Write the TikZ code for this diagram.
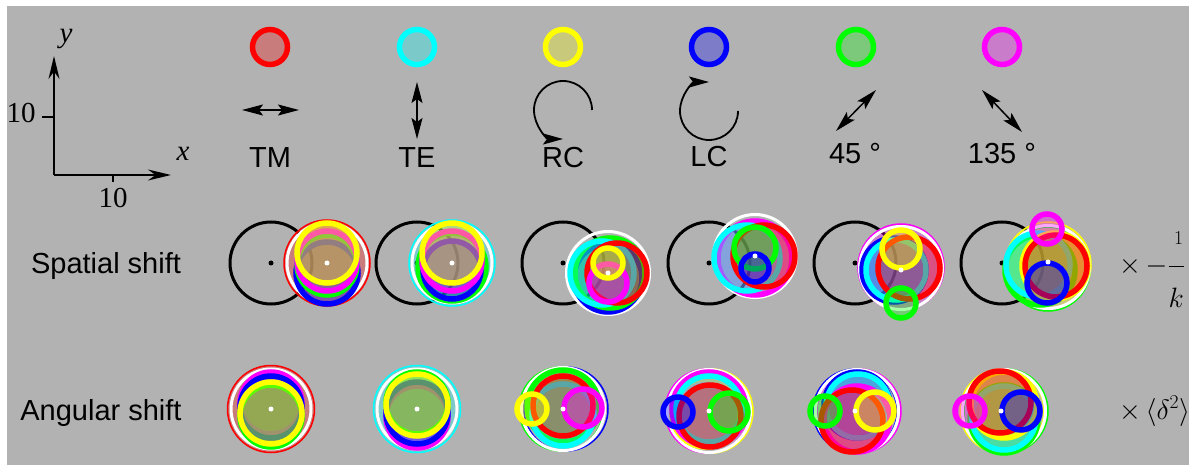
\documentclass[tikz,border=0pt]{standalone}
\usepackage{fix-cm}
\usepackage{amsmath}
\usepackage{fontspec}
\setmainfont{Liberation Serif}
\setsansfont{Liberation Sans}
\usepackage{xcolor}
\definecolor{bgcolor}{gray}{0.7}
\definecolor{cyan}{rgb}{0,1,1}
\definecolor{magenta}{rgb}{1,0,1}
\definecolor{green}{rgb}{0,1,0}
\definecolor{yellow}{rgb}{1,1,0}
\colorlet{refcolor}{black}
\colorlet{centercolor}{white}
\usetikzlibrary{
  arrows.meta,
}

\begin{document}
\begin{tikzpicture}[x=1pt,y=-1pt]
	\tikzstyle{every node}=[font=\sffamily\fontsize{29}{34}\selectfont, inner sep=0pt]
	\tikzstyle{polring}=[line width=5.5pt, fill opacity=0.35]
	\tikzstyle{legring}=[line width=5.5pt, fill opacity=0.3]
	\tikzstyle{thinring}=[line width=1.5pt, fill opacity=0.3]
	\tikzstyle{whitering}=[white, line width=3pt]
	\tikzstyle{refring}=[refcolor, line width=3pt]
	\tikzstyle{pol}=[line width=1.5pt, {Stealth[length=21pt,width=11pt,inset=4pt]}-{Stealth[length=21pt,width=11pt,inset=4pt]}]
	\tikzstyle{spin}=[line width=1.8pt, -{Stealth[length=20pt,width=11pt,inset=4pt]}]
	% background
	\useasboundingbox (0,0) rectangle (1189,465);
	\fill[bgcolor] (7,6) rectangle (1189,465);
	% axes
	\coordinate (O) at (54,175);
	\coordinate (ytip) at (54,56);
	\coordinate (xtip) at (171,175);
	\coordinate (ytick) at (42,117);
	\coordinate (xtick) at (113,182);
	\draw[line width=1.7pt, -{Stealth[length=23pt,width=11pt]}] (O) -- (ytip);
	\draw[line width=1.7pt, -{Stealth[length=23pt,width=11pt]}] (O) -- (xtip);
	\draw[line width=1.5pt] (ytick) -- (54,117);
	\draw[line width=1.5pt] (xtick) -- (113,175);
	\node (ylab) at (66,39) {\rmfamily\itshape y};
	\node (xlab) at (183,154) {\rmfamily\itshape x};
	\node[anchor=base] (yten) at (21,123) {\rmfamily 10};
	\node[anchor=base] (xten) at (113,208) {\rmfamily 10};
	% legend circles
	\draw[legring, draw=red, fill=red] (270,47) circle [radius=17.5];
	\draw[legring, draw=cyan, fill=cyan] (417,47) circle [radius=17.5];
	\draw[legring, draw=yellow, fill=yellow] (563,47) circle [radius=17.5];
	\draw[legring, draw=blue, fill=blue] (709,47) circle [radius=17.5];
	\draw[legring, draw=green, fill=green] (856,47) circle [radius=17.5];
	\draw[legring, draw=magenta, fill=magenta] (1002,47) circle [radius=17.5];
	% polarization symbols
	\draw[pol] (242,110) -- (299,110);
	\draw[pol] (417,82) -- (417,139);
	\draw[spin] (592,110) arc [start angle=0, end angle=-270, radius=29];
	\draw[spin] (738,111) arc [start angle=0, end angle=270, radius=29];
	\draw[pol] (836,131) -- (876,90);
	\draw[pol] (982,90) -- (1022,132);
	\node[anchor=base] (tm) at (270,168) {TM};
	\node[anchor=base] (te) at (417,168) {TE};
	\node[anchor=base] (rc) at (563,168) {RC};
	\node[anchor=base] (lc) at (709,167) {LC};
	\node[anchor=base] (dfortyfive) at (855,164) {45 °};
	\node[anchor=base] (donethirtyfive) at (1002,164) {135 °};
	% row labels
	\node[anchor=base] (spatial) at (106,273) {Spatial shift};
	\node[anchor=base] (angular) at (101,420) {Angular shift};
	% reference circles
	\draw[refring] (271,263) circle [radius=41];
	\draw[refring] (417,263) circle [radius=41];
	\draw[refring] (563,263) circle [radius=41];
	\draw[refring] (709,263) circle [radius=41];
	\draw[refring] (855,263) circle [radius=41];
	\draw[refring] (1002,263) circle [radius=41];
	\fill[refcolor] (271,263) circle [radius=2.5];
	\fill[refcolor] (417,263) circle [radius=2.5];
	\fill[refcolor] (563,263) circle [radius=2.5];
	\fill[refcolor] (709,263) circle [radius=2.5];
	\fill[refcolor] (855,263) circle [radius=2.5];
	\fill[refcolor] (1002,263) circle [radius=2.5];
	% spatial shift, TM
	\begin{scope}[shift={(327,263)}]
		\draw[thinring, draw=red, fill=red] (0,0) circle [radius=43];
		\draw[whitering] (0,0) circle [radius=40];
		\draw[polring, draw=blue, fill=blue] (0,10) circle [radius=31];
		\draw[polring, draw=green, fill=green] (0,2) circle [radius=30];
		\draw[polring, draw=magenta, fill=magenta] (0,-2) circle [radius=30];
		\draw[polring, draw=yellow, fill=yellow] (0,-10) circle [radius=30];
		\fill[centercolor] (0,0) circle [radius=2.5];
	\end{scope}
	% spatial shift, TE
	\begin{scope}[shift={(452,263)}]
		\draw[thinring, draw=cyan, fill=cyan] (0,0) circle [radius=43];
		\draw[whitering] (0,0) circle [radius=40];
		\draw[polring, draw=green, fill=green] (0,4) circle [radius=34];
		\draw[polring, draw=blue, fill=blue] (0,7) circle [radius=29];
		\draw[polring, draw=magenta, fill=magenta] (0,-2) circle [radius=30];
		\draw[polring, draw=yellow, fill=yellow] (0,-10) circle [radius=30];
		\fill[centercolor] (0,0) circle [radius=2.5];
	\end{scope}
	% spatial shift, RC
	\begin{scope}[shift={(608,273)}]
		\draw[whitering] (0,0) circle [radius=41.5];
		\draw[polring, draw=blue, fill=blue] (0,5) circle [radius=34];
		\draw[polring, draw=green, fill=green] (2,0) circle [radius=35];
		\draw[polring, draw=cyan, fill=cyan] (-6,0) circle [radius=32];
		\draw[polring, draw=red, fill=red] (9,0) circle [radius=30];
		\draw[polring, draw=magenta, fill=magenta] (0,10) circle [radius=19];
		\draw[polring, draw=yellow, fill=yellow] (0,-10) circle [radius=15];
		\fill[centercolor] (0,0) circle [radius=2.5];
	\end{scope}
	% spatial shift, LC
	\begin{scope}[shift={(755,256)}]
		\draw[whitering] (0,0) circle [radius=41.5];
		\draw[polring, draw=magenta, fill=magenta] (0,2) circle [radius=37];
		\draw[polring, draw=cyan, fill=cyan] (-8,2) circle [radius=33];
		\draw[polring, draw=red, fill=red] (9,0) circle [radius=31];
		\draw[polring, draw=green, fill=green] (0,-8) circle [radius=21];
		\draw[polring, draw=blue, fill=blue] (0,12) circle [radius=14];
		\fill[centercolor] (0,0) circle [radius=2.5];
	\end{scope}
	% spatial shift, 45
	\begin{scope}[shift={(901,268)}]
		\draw[thinring, draw=magenta, fill=magenta] (0,-1) circle [radius=43];
		\draw[whitering] (0,0) circle [radius=41.5];
		\draw[polring, draw=blue, fill=blue] (-7,2) circle [radius=32];
		\draw[polring, draw=cyan, fill=cyan] (-5,2) circle [radius=30];
		\draw[polring, draw=red, fill=red] (8,0) circle [radius=31];
		\draw[polring, draw=yellow, fill=yellow] (0,-19) circle [radius=19];
		\draw[polring, draw=green, fill=green] (0,35) circle [radius=15];
		\fill[centercolor] (0,2) circle [radius=2.5];
	\end{scope}
	% spatial shift, 135
	\begin{scope}[shift={(1048,267)}]
		\draw[thinring, draw=yellow, fill=yellow] (0,-2) circle [radius=43];
		\draw[thinring, draw=green] (0,2) circle [radius=42];
		\draw[whitering] (0,0) circle [radius=41.5];
		\draw[polring, draw=green, fill=green] (-8,3) circle [radius=35];
		\draw[polring, draw=cyan, fill=cyan] (-10,-2) circle [radius=32];
		\draw[polring, draw=yellow, fill=yellow] (7,-1) circle [radius=33];
		\draw[polring, draw=red, fill=red] (8,-1) circle [radius=31];
		\draw[polring, draw=magenta, fill=magenta] (-1,-38) circle [radius=15];
		\draw[polring, draw=blue, fill=blue] (-1,16) circle [radius=20];
		\fill[centercolor] (0,-5) circle [radius=2.5];
	\end{scope}
	% angular shift, TM
	\begin{scope}[shift={(271,409)}]
		\draw[thinring, draw=red, fill=red] (0,0) circle [radius=43.5];
		\draw[whitering] (0,0) circle [radius=40];
		\draw[polring, draw=magenta, fill=magenta] (0,-6) circle [radius=31];
		\draw[polring, draw=blue, fill=blue] (0,-2) circle [radius=31];
		\draw[polring, draw=green, fill=green] (0,7) circle [radius=31];
		\draw[polring, draw=yellow, fill=yellow] (0,4) circle [radius=31];
		\fill[centercolor] (0,0) circle [radius=2.5];
	\end{scope}
	% angular shift, TE
	\begin{scope}[shift={(417,409)}]
		\draw[thinring, draw=cyan, fill=cyan] (0,0) circle [radius=43.5];
		\draw[whitering] (0,0) circle [radius=40];
		\draw[polring, draw=magenta, fill=magenta] (0,8) circle [radius=31];
		\draw[polring, draw=blue, fill=blue] (0,4) circle [radius=31];
		\draw[polring, draw=green, fill=green] (0,-6) circle [radius=31];
		\draw[polring, draw=yellow, fill=yellow] (0,-4) circle [radius=31];
		\fill[centercolor] (0,0) circle [radius=2.5];
	\end{scope}
	% angular shift, RC
	\begin{scope}[shift={(563,409)}]
		\draw[thinring, draw=blue] (3,0) circle [radius=42];
		\draw[thinring, draw=green] (-2,0) circle [radius=42];
		\draw[whitering] (0,0) circle [radius=41.5];
		\draw[polring, draw=green, fill=green] (0,-3) circle [radius=36];
		\draw[polring, draw=cyan, fill=cyan] (0,6) circle [radius=31];
		\draw[polring, draw=red, fill=red] (0,-3) circle [radius=30];
		\draw[polring, draw=magenta, fill=magenta] (20,-1) circle [radius=19];
		\draw[polring, draw=yellow, fill=yellow] (-31,0) circle [radius=15];
		\fill[centercolor] (0,0) circle [radius=2.5];
	\end{scope}
	% angular shift, LC
	\begin{scope}[shift={(709,411)}]
		\draw[thinring, draw=magenta] (-2,0) circle [radius=42];
		\draw[thinring, draw=yellow] (2,0) circle [radius=42];
		\draw[whitering] (0,0) circle [radius=41.5];
		\draw[polring, draw=yellow, fill=yellow] (-3,2) circle [radius=34];
		\draw[polring, draw=magenta, fill=magenta] (0,-2) circle [radius=37];
		\draw[polring, draw=cyan, fill=cyan] (0,-2) circle [radius=33];
		\draw[polring, draw=red, fill=red] (1,5) circle [radius=31];
		\draw[polring, draw=blue, fill=blue] (-31,1) circle [radius=15];
		\draw[polring, draw=green, fill=green] (20,1) circle [radius=19];
		\fill[centercolor] (0,0) circle [radius=2.5];
	\end{scope}
	% angular shift, 45
	\begin{scope}[shift={(857,411)}]
		\draw[thinring, draw=blue] (-2,0) circle [radius=42];
		\draw[thinring, draw=magenta] (2,0) circle [radius=42];
		\draw[whitering] (0,0) circle [radius=41.5];
		\draw[polring, draw=blue, fill=blue] (0,-6) circle [radius=33];
		\draw[polring, draw=cyan, fill=cyan] (1,-5) circle [radius=32];
		\draw[polring, draw=magenta, fill=magenta] (0,8) circle [radius=33];
		\draw[polring, draw=red, fill=red] (-5,10) circle [radius=31];
		\draw[polring, draw=green, fill=green] (-32,0) circle [radius=15];
		\draw[polring, draw=yellow, fill=yellow] (18,0) circle [radius=19];
		\fill[centercolor] (-2,0) circle [radius=2.5];
	\end{scope}
	% angular shift, 135
	\begin{scope}[shift={(1004,411)}]
		\draw[thinring, draw=yellow] (-2,0) circle [radius=42];
		\draw[thinring, draw=green] (2,0) circle [radius=42];
		\draw[whitering] (0,0) circle [radius=41.5];
		\draw[polring, draw=green, fill=green] (0,8) circle [radius=34];
		\draw[polring, draw=cyan, fill=cyan] (0,7) circle [radius=32];
		\draw[polring, draw=yellow, fill=yellow] (0,-6) circle [radius=33];
		\draw[polring, draw=red, fill=red] (-4,-9) circle [radius=31];
		\draw[polring, draw=magenta, fill=magenta] (-34,0) circle [radius=15];
		\draw[polring, draw=blue, fill=blue] (17,0) circle [radius=19];
		\fill[centercolor] (-3,0) circle [radius=2.5];
	\end{scope}
	% scale factors
	\node[anchor=base west] (spatfactor) at (1119,273) {\fontsize{28}{34}\selectfont$\times\,{-}\genfrac{}{}{0.8pt}{}{\kern5pt\rule[-20pt]{0pt}{0pt}1}{\rule{0pt}{40pt}\textstyle k}$};
	\node[anchor=base west] (angfactor) at (1119,419) {\fontsize{28}{34}\selectfont$\times\,\langle\delta^2\rangle$};
\end{tikzpicture}
\end{document}
